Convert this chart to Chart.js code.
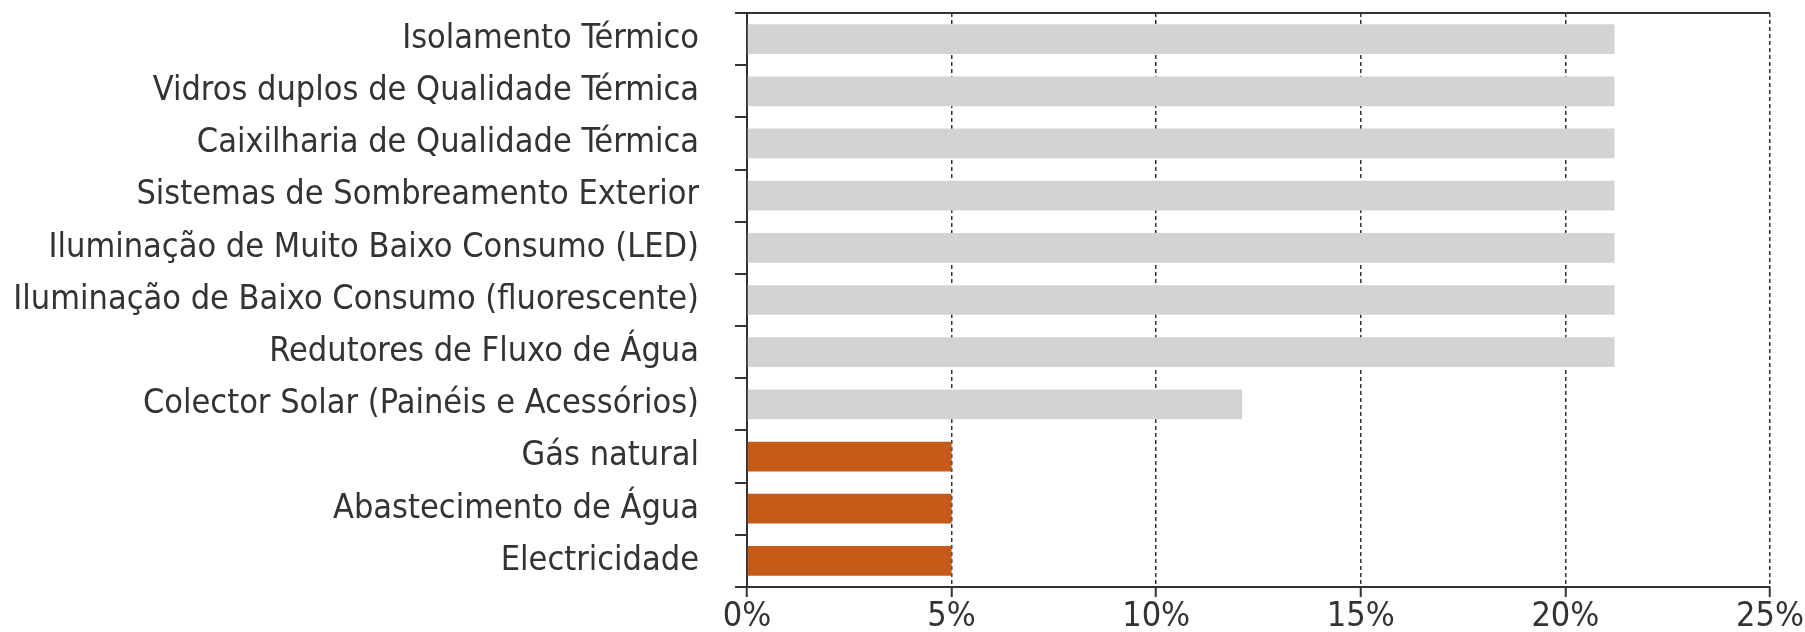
<!DOCTYPE html>
<html>
<head>
<meta charset="utf-8">
<script src="https://cdn.jsdelivr.net/npm/chart.js@4.4.1/dist/chart.umd.min.js"></script>
<style>
  html, body { margin: 0; padding: 0; background: #fff; }
  #wrap { width: 1805px; height: 632px; }
</style>
</head>
<body>
<div id="wrap"><canvas id="chart"></canvas></div>
<script>
// categorias e valores
const categorias = [
  'Isolamento Térmico',
  'Vidros duplos de Qualidade Térmica',
  'Caixilharia de Qualidade Térmica',
  'Sistemas de Sombreamento Exterior',
  'Iluminação de Muito Baixo Consumo (LED)',
  'Iluminação de Baixo Consumo (fluorescente)',
  'Redutores de Fluxo de Água',
  'Colector Solar (Painéis e Acessórios)',
  'Gás natural',
  'Abastecimento de Água',
  'Electricidade'
];
const valores = [21.2, 21.2, 21.2, 21.2, 21.2, 21.2, 21.2, 12.1, 5, 5, 5];
const cores = ['#d1d3d4', '#d1d3d4', '#d1d3d4', '#d1d3d4', '#d1d3d4', '#d1d3d4', '#d1d3d4', '#d1d3d4', '#c55a19', '#c55a19', '#c55a19'];
const ticksX = [0, 5, 10, 15, 20, 25];

const fonte = { family: '"Liberation Sans Narrow", "DejaVu Sans Condensed", sans-serif', size: 34 };
const corTexto = '#333333';
const corLinha = '#333333';

const ctx = document.getElementById('chart').getContext('2d');
new Chart(ctx, {
  type: 'bar',
  data: {
    labels: categorias,
    datasets: [{
      data: valores,
      backgroundColor: cores,
      barPercentage: 0.57,
      categoryPercentage: 1
    }]
  },
  options: {
    indexAxis: 'y',
    responsive: true,
    maintainAspectRatio: false,
    animation: false,
    layout: { padding: { top: 13, right: 35, bottom: 0, left: 0 } },
    plugins: { legend: { display: false }, tooltip: { enabled: false } },
    scales: {
      x: {
        min: 0,
        max: 25,
        afterBuildTicks: (axis) => { axis.ticks = ticksX.map(v => ({ value: v })); },
        afterFit: (axis) => { axis.height = 45; },
        ticks: {
          font: fonte,
          color: corTexto,
          padding: 0,
          callback: (v) => v + '%'
        },
        grid: {
          color: (c) => c.index === 0 ? 'transparent' : corLinha,
          lineWidth: 1.5,
          tickColor: corLinha,
          tickWidth: 2,
          tickLength: 10
        },
        border: { display: true, color: corLinha, width: 2, dash: [4, 3] }
      },
      y: {
        afterFit: (axis) => {
          axis.width = 747;
          axis.paddingTop = 0;
          axis.paddingBottom = 0;
        },
        ticks: {
          font: fonte,
          color: corTexto,
          padding: 36
        },
        grid: {
          offset: true,
          color: (c) => c.index === 0 ? corLinha : 'transparent',
          lineWidth: 2,
          tickColor: corLinha,
          tickWidth: 2,
          tickLength: 12
        },
        border: { display: true, color: corLinha, width: 2 }
      }
    }
  }
});
</script>
</body>
</html>
